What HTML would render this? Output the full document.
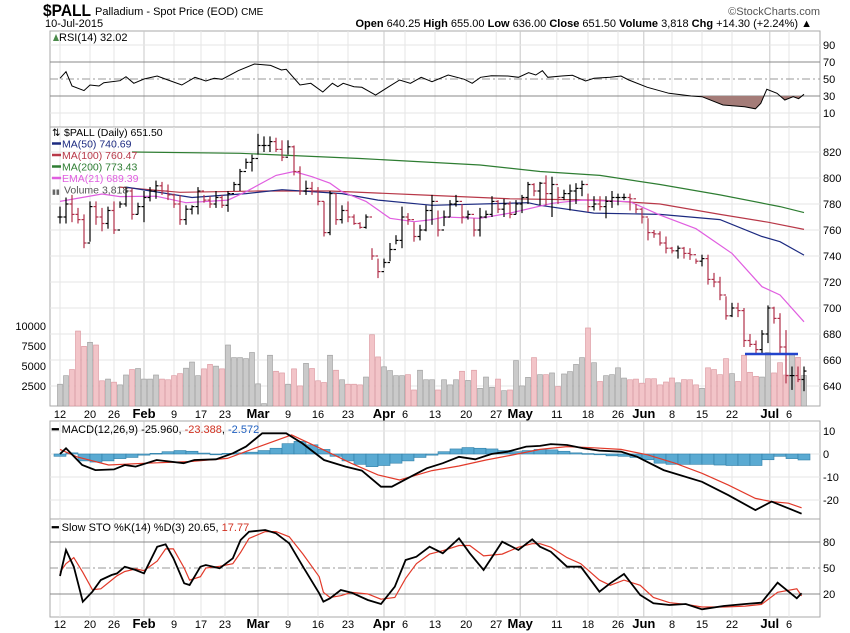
<!DOCTYPE html>
<html><head><meta charset="utf-8"><style>
html,body{margin:0;padding:0;background:#fff;}
svg{display:block;font-family:"Liberation Sans",sans-serif;}
</style></head><body>
<svg id="c" width="850" height="633" viewBox="0 0 850 633" xmlns="http://www.w3.org/2000/svg">
<text x="43" y="16" font-size="17" font-weight="bold" textLength="48" lengthAdjust="spacingAndGlyphs">$PALL</text>
<text x="95" y="15" font-size="11">Palladium - Spot Price (EOD) <tspan font-size="10">CME</tspan></text>
<text x="45" y="27" font-size="11">10-Jul-2015</text>
<text x="812" y="27" font-size="11" text-anchor="end"><tspan font-weight="bold">Open</tspan> 640.25 <tspan font-weight="bold">High</tspan> 655.00 <tspan font-weight="bold">Low</tspan> 636.00 <tspan font-weight="bold">Close</tspan> 651.50 <tspan font-weight="bold">Volume</tspan> 3,818 <tspan font-weight="bold">Chg</tspan> +14.30 (+2.24%) ▲</text>
<text x="820" y="15" font-size="11" text-anchor="end" fill="#555">©StockCharts.com</text>
<g id="g"></g>
</svg>
<script>
// ---------- data ----------
const hi=[778,785,787,777,772,782,782,777,778,782,782,793,792,781,790,793,798,797,795,788,787,779,779,793,787,786,790,787,790,797,807,815,818,834,832,832,831,829,829,825,809,798,797,793,782,790,788,779,782,772,766,772,746,738,738,750,756,778,773,766,764,779,787,
775,775,783,787,780,775,769,777,775,786,783,784,782,783,787,797,796,797,802,801,793,791,795,796,798,788,786,786,786,790,788,788,788,780,777,769,760,759,755,747,748,747,746,738,741,741,727,724,709,704,704,700,680,675,683,702,701,696,683,655,655,655];
const lo=[765,765,766,765,746,751,764,759,761,757,777,778,768,772,766,782,784,787,783,777,764,764,772,772,781,777,777,777,774,790,790,807,805,818,820,820,820,813,818,802,787,787,787,779,755,756,764,765,766,764,761,761,737,723,731,736,749,746,764,751,752,759,764,
755,763,770,778,765,768,755,755,769,770,773,770,769,772,773,780,786,779,779,770,780,783,775,780,786,774,775,775,769,777,779,783,775,773,765,752,754,748,742,742,738,738,737,734,732,718,716,706,691,693,693,670,670,665,665,673,688,665,642,637,643,636];
const cl=[770,780,772,768,750,778,770,765,775,760,780,790,772,778,785,790,794,790,787,780,768,776,778,790,783,780,785,779,788,795,805,812,815,825,825,828,822,816,824,805,790,792,790,782,758,788,768,775,770,765,762,770,740,728,735,745,752,770,768,755,760,775,782,
760,770,780,782,770,772,760,770,772,782,776,780,772,780,785,795,790,796,788,795,785,788,790,792,795,778,780,778,782,785,785,785,784,776,770,758,757,750,746,744,746,742,741,736,738,722,720,710,694,700,698,675,672,668,680,700,692,670,648,648,645,651.5];
const vol=[2726,3791,4558,9372,7455,7966,7625,3152,3365,2982,2641,3877,4558,4686,3365,3365,3877,3365,3280,3791,4047,4729,5495,3791,4643,5197,4984,4643,7625,6049,6049,5921,6688,2769,298,6347,4345,4132,2726,4643,2513,5325,4686,3152,2939,6347,4473,3280,2726,2726,2641,3621,8903,6134,4899,4430,3791,3791,3919,2002,4473,3280,3280,2002,3280,2641,3280,4345,3195,4473,2215,3621,2343,3365,1917,2002,5666,2513,3578,6049,3919,3919,4132,2428,4004,4303,5197,6049,9755,5410,3067,3791,3919,4771,3493,3280,3365,2854,3408,3408,2641,3000,3500,2900,3300,3280,2641,2215,4771,4558,3919,5921,4047,3067,6347,4217,3706,3621,6688,4132,5410,3877,6575,6075,3818];
const ma200Idx=[12,30,50,70,80,90,100,110,120,124];
const ma200Val=[820,819,815,810,805,802,795,787,778,773.4];
const ma100Idx=[10,20,33,45,60,75,90,100,110,118,124];
const ma100Val=[793,789,790,790,787,784,783,780,772,766,760.5];
const ma50Idx=[11,22,31,37,47,53,62,78,80,89,100,110,117,120,124];
const ma50Val=[793,785,788,791,788,783,779,781,779,773,772,768,755,751,740.7];
const emaIdx=[0,7,10,16,21,28,31,36,39,42,45,47,51,55,59,62,64,70,75,82,87,95,100,106,112,117,120,124];
const emaVal=[782,787.7,785.7,786,781,783,789.5,802,805,801,796,789.5,782,769,766.4,768,770,769,773,780.5,783,781.8,771.5,761,742,716.4,710,689.4];
const rsiIdx=[0,1,2,4,5,6.5,7.3,10,11,12.3,14,16.2,18,20.3,22.5,24.3,25.7,27,29.7,32.4,35.1,36.9,37.7,40,41.8,43.8,45.4,46.3,47.2,49,50.3,52.6,54.8,56.6,58.4,60.2,62,64.7,67.4,68.7,70.1,71.9,74.6,76.4,78.1,79.3,80.4,81.3,83.6,85.4,87.6,89,91.7,93.5,94.8,97.9,101.5,105.2,107,110.5,114.1,115.9,116.8,117.8,119.5,120.8,122.2,123.1,124];
const rsiVal=[50.8,58.6,41.8,36.3,43,41.8,45.7,48,52.7,45,50,53.5,48.8,43,52,47.6,50.8,49.6,59.8,67.6,66,60.6,61.4,43,45,34.7,45,41,45,41,40.2,31.2,41,48.8,45,52,46.8,54.7,49.6,45,52,53.9,53.5,52,57.4,54.7,59.8,52,53.5,54.3,47.6,50.8,52,53.5,48.8,40.2,33.2,30,29.2,19.4,17.4,15,21.4,37.9,33.2,25.3,29.2,26.8,32];
const macdIdx=[0,1,3.7,5.9,9,10.8,12.6,16.1,20.6,22.4,26,28.8,31,33.7,37.7,40.4,44,47.6,50.3,53.5,55.3,58.4,61.1,63.8,66.5,69.2,71.9,74.6,77.7,80,81.8,84.5,87.2,89.9,93.5,96.2,100.6,107,111.4,115.9,118.6,121.4,123.6];
const macdVal=[0,2.5,-4.8,-7,-6.7,-4.8,-5.5,-2.6,-4,-2.6,-2.3,0.3,3.2,9,9,4.6,-2.6,-5.5,-7.2,-14.2,-14.2,-9.9,-6.2,-4,-1.2,-2.3,0,1,3.2,3.5,4.3,3.9,2.5,1.5,1,-1.2,-7,-12.1,-17.9,-24.4,-20.7,-23.6,-25.96];
const sigIdx=[0,2.8,8.1,14.4,21.5,27.9,32.4,38.6,44,48.5,53,56.6,62,66.5,71,75.5,80,84.5,89,93.5,98,102.5,107,111.4,115.9,118.6,121.4,123.6];
const sigVal=[2,-1.2,-4.8,-4,-3.3,-1.9,2.5,8.3,1.7,-4,-9.1,-11.3,-7.2,-5.2,-2.6,-0.4,2,3.2,2.7,2,-0.4,-4,-8.4,-13.5,-19.3,-20.7,-21.4,-23.4];
const histVal=[-1,0.5,-3,-3.5,-3,-2,-1.5,-0.5,0.3,1,1.5,1.2,0.4,-0.2,0.3,0.5,0.8,1.5,2.5,4.5,5.5,4,2,-1,-3,-4.5,-5.5,-5,-4,-3,-1.5,-0.5,1,2.2,2.8,2.5,2.2,1.5,1,1.5,2,1.8,1.2,0.5,0.2,-0.3,-0.8,-1,-1.5,-2.5,-4,-4.5,-4.5,-4.5,-4.5,-4.8,-5,-5,-5,-2.5,-1,-2,-2.6];
const stoIdx=[0,1,2.3,3.8,5.4,6.8,8.6,9.5,10.8,12.6,14,16.2,17.6,18.9,20.7,21.6,23.4,24.3,26.6,28.8,30.1,31.5,34.2,36,38.2,40.5,43.2,43.9,45,46.8,48.6,51.3,53.5,55.8,57.6,59.4,61.6,63.8,66.5,68.3,70.6,73.7,76.4,78.7,80,81.8,84.5,86.8,89.9,91.7,94,96.7,98.9,101.6,104.3,107,110.6,114.2,116.9,119.6,122.8,123.6];
const stoK=[40.8,70.8,51.5,11.1,22.7,36.2,41.9,43.8,51.5,47.7,43.8,74.6,77.3,61.2,32.3,30.4,51.5,53.5,49.6,61.2,82.3,91.9,93.8,90,78.5,51.5,20.8,11.1,15,24.6,21.5,13.1,8.5,28.4,59.2,63,74.6,67,84.3,67,47.7,80.3,70.8,83.1,74.6,68.8,51.5,51.5,22.7,32.3,43.1,18.9,9.3,7.3,8.5,2.4,6.2,8.5,10,33,15,20.8];
const stoD=[45,55,62,45,25,26,36,41,46,49,47,58,72,72,50,36,40,50,52,55,68,84,92,92,86,66,40,22,16,18,22,20,14,16,38,55,66,70,76,76,64,66,74,78,78,74,62,55,36,30,36,30,16,10,8,5,5,6,8,22,26,17.8];
const dateIdx=[0,5,9,14,19,23.5,27.5,33,38,43,48,54,57.5,62.5,67.7,72.7,76.7,82.8,88,93,97.3,102,107,112,118.3,121.5];
const dateLbl=["12","20","26","Feb","9","17","23","Mar","9","16","23","Apr","6","13","20","27","May","11","18","26","Jun","8","15","22","Jul","6"];
const priceTicks=[640,660,680,700,720,740,760,780,800,820];
const volTicks=[2500,5000,7500,10000];
const rsiTicks=[10,30,50,70,90];
const macdTicks=[10,0,-10,-20];
const stoTicks=[20,50,80];

// ---------- scales ----------
const L=50,R=820;
const X=i=>60+i*6.0;
const PY=p=>152+(820-p)*1.3;
const VY=v=>406-v*20/2500;
const RY=v=>79+(50-v)*0.85;
const MY=v=>454-v*2.3;
const SY=v=>568+(50-v)*0.867;
const NS="http://www.w3.org/2000/svg";
const G=document.getElementById('g');
function el(t,a,p){const e=document.createElementNS(NS,t);for(const k in a)e.setAttribute(k,a[k]);(p||G).appendChild(e);return e;}
function txt(x,y,s,a){const e=el('text',Object.assign({x:x,y:y,'font-size':11},a||{}));e.textContent=s;return e;}
function pts(ix,vs,f){return ix.map((i,k)=>X(i).toFixed(1)+','+f(vs[k]).toFixed(1)).join(' ');}

const panels=[{n:'rsi-panel',t:31,b:127},{n:'price-panel',t:127,b:406},{n:'macd-panel',t:421,b:519},{n:'sto-panel',t:519,b:617}];
panels.forEach(p=>{
  const r=el('rect',{x:L,y:p.t,width:R-L,height:p.b-p.t,fill:'#fff',stroke:'#aaa'});
  
  
  dateIdx.forEach((d,k)=>{
    const isM=isNaN(+dateLbl[k]);
    const gl=el('line',{x1:X(d),x2:X(d),y1:p.t,y2:p.b,stroke:isM?'#c8c8c8':'#e6e6e6'});
    
    
  });
});
[418,628].forEach((yy,ai)=>{
  dateIdx.forEach((d,k)=>{
    const isM=isNaN(+dateLbl[k]);
    const t=txt(X(d),yy,dateLbl[k],{'text-anchor':'middle','font-size':isM?13:11,'font-weight':isM?'bold':'normal'});
    
    
  });
});

// ---------- RSI ----------
rsiTicks.forEach(v=>{
  const isRef=(v==30||v==70);
  const ln=el('line',{x1:L,x2:R,y1:RY(v),y2:RY(v),stroke:isRef?'#888':(v==50?'#999':'#e6e6e6'),'stroke-dasharray':v==50?'8,3,2,3':'none'});
  
  
  const t=txt(823,RY(v)+4,String(v));
  
  
});
const defs=el('defs',{});
const cp=el('clipPath',{id:'below30'},defs);
el('rect',{x:L,y:RY(30),width:R-L,height:127-RY(30)},cp);
const rp=pts(rsiIdx,rsiVal,RY);
const rf=el('polygon',{points:X(rsiIdx[0])+','+RY(30)+' '+rp+' '+X(rsiIdx[rsiIdx.length-1])+','+RY(30),fill:'#a47c78',stroke:'none','clip-path':'url(#below30)'});


const rl=el('polyline',{points:rp,fill:'none',stroke:'#000','stroke-width':1});


const ri=el('polygon',{points:'53,41 56,34 59,41',fill:'#4a8a4a'});


const rt=txt(59,41,'RSI(14) 32.02');



// ---------- price ----------
priceTicks.forEach(v=>{
  const ln=el('line',{x1:L,x2:R,y1:PY(v),y2:PY(v),stroke:'#e6e6e6'});
  
  
  const t=txt(823,PY(v)+4,String(v));
  
  
});
volTicks.forEach(v=>{
  const t=txt(46,VY(v)+4,String(v),{'text-anchor':'end'});
  
  
});
vol.forEach((v,i)=>{
  const down=i>0&&cl[i]<cl[i-1];
  const b=el('rect',{x:X(i)-2.5,y:VY(v),width:5,height:406-VY(v),fill:down?'#f2c4c8':'#cacaca',stroke:down?'#d9939b':'#9a9a9a','stroke-width':0.6});
  
  
});
function line(ix,vs,f,col,name,w){
  const l=el('polyline',{points:pts(ix,vs,f),fill:'none',stroke:col,'stroke-width':w||1.2});
  
  
}
line(ma200Idx,ma200Val,PY,'#2e7d32','ma200-line');
line(ma100Idx,ma100Val,PY,'#b83848','ma100-line');
line(ma50Idx,ma50Val,PY,'#1c2a80','ma50-line');
line(emaIdx,emaVal,PY,'#e05ee0','ema21-line');
cl.forEach((c,i)=>{
  const o=i>0?cl[i-1]:c;
  const col=(i>0&&c<cl[i-1])?'#b0304a':'#000';
  const g=el('g',{stroke:col,'stroke-width':1.2});
  
  
  el('line',{x1:X(i),x2:X(i),y1:PY(hi[i]),y2:PY(lo[i])},g);
  el('line',{x1:X(i)-2.5,x2:X(i),y1:PY(o),y2:PY(o)},g);
  el('line',{x1:X(i),x2:X(i)+2.5,y1:PY(c),y2:PY(c)},g);
});
const sl=el('line',{x1:745,x2:798,y1:354,y2:354,stroke:'#2244cc','stroke-width':2.5});


const leg=[['$PALL (Daily) 651.50','#000','price-legend'],['MA(50) 740.69','#1c2a80','ma50-legend'],['MA(100) 760.47','#b83848','ma100-legend'],['MA(200) 773.43','#2e7d32','ma200-legend'],['EMA(21) 689.39','#e05ee0','ema21-legend'],['Volume 3,818','#555','volume-legend']];
leg.forEach((l,k)=>{
  const y=136+k*11.5;
  const t=txt(k==0||k==5?64:62,y,l[0],{fill:l[1],'font-size':10.5});
  
  
  if(k>0&&k<5){const m=el('line',{x1:52,x2:61,y1:y-4,y2:y-4,stroke:l[1],'stroke-width':2.5});}
});
const pi=txt(52,136,'⇅',{'font-size':10});


const vi=txt(52,194,'▮▮',{'font-size':7,fill:'#666'});



// ---------- MACD ----------
macdTicks.forEach(v=>{
  const ln=el('line',{x1:L,x2:R,y1:MY(v),y2:MY(v),stroke:'#e6e6e6'});
  
  
  const t=txt(823,MY(v)+4,String(v));
  
  
});
histVal.forEach((v,k)=>{
  const y0=MY(0),y1=MY(v);
  const b=el('rect',{x:X(k*2)-6,y:Math.min(y0,y1),width:12,height:Math.max(0.8,Math.abs(y1-y0)),fill:'#5aaad2',stroke:'#2f7fa8','stroke-width':0.6});
  
  
});
line(sigIdx,sigVal,MY,'#e23a2a','macd-signal-line',1.2);
line(macdIdx,macdVal,MY,'#000','macd-line',1.8);
const mt=el('text',{x:52,y:433,'font-size':11});
mt.innerHTML='<tspan font-weight="bold">━</tspan> MACD(12,26,9) -25.960, <tspan fill="#d03020">-23.388</tspan>, <tspan fill="#2060c0">-2.572</tspan>';



// ---------- Slow STO ----------
stoTicks.forEach(v=>{
  const ln=el('line',{x1:L,x2:R,y1:SY(v),y2:SY(v),stroke:v==50?'#999':'#888','stroke-dasharray':v==50?'8,3,2,3':'none'});
  
  
  const t=txt(823,SY(v)+4,String(v));
  
  
});
line(stoIdx,stoD,SY,'#e23a2a','sto-d-line',1.2);
line(stoIdx,stoK,SY,'#000','sto-k-line',1.8);
const st=el('text',{x:52,y:531,'font-size':11});
st.innerHTML='<tspan font-weight="bold">━</tspan> Slow STO %K(14) %D(3) 20.65, <tspan fill="#d03020">17.77</tspan>';


</script>
</body></html>
